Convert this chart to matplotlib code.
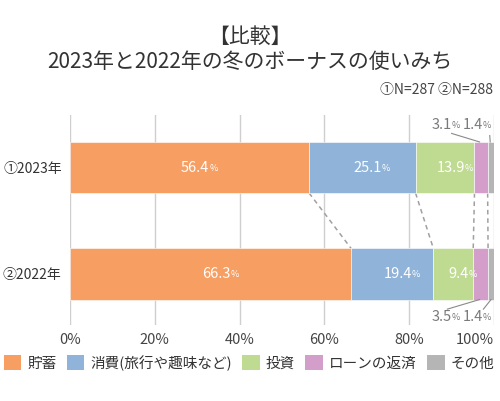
import matplotlib.pyplot as plt
from matplotlib.patches import Patch

plt.rcParams['font.family'] = ['Noto Sans CJK JP', 'DejaVu Sans']

# ===== データ =====
years = ["①2023年", "②2022年"]
categories = ["貯蓄", "消費(旅行や趣味など)", "投資", "ローンの返済", "その他"]
vals_2023 = [56.4, 25.1, 13.9, 3.1, 1.4]
vals_2022 = [66.3, 19.4, 9.4, 3.5, 1.4]
colors = ["#F79E63", "#8FB3D9", "#BFDB91", "#D49ECB", "#B5B5B5"]
xticks = [0, 20, 40, 60, 80, 100]

data = [vals_2023, vals_2022]

fig = plt.figure(figsize=(5.0, 4.01), dpi=100)
ax = fig.add_axes([0.14, 1 - 325 / 401, 0.848, 210 / 401])

# grid
for t in xticks:
    ax.axvline(t, color="#CFCFCF", lw=1, zorder=0)

bar_h = 0.48
for i, vals in enumerate(data):
    left = 0
    for j, v in enumerate(vals):
        ax.barh(i, v, left=left, height=bar_h, color=colors[j],
                edgecolor="white", linewidth=0.4, zorder=2)
        if v > 5:
            t = ax.text(left + v / 2 + 1.3, i, f"{v}", color="white",
                        ha="center", va="center", fontsize=10.5, zorder=3)
            ax.annotate("%", xy=(1, 0.12), xycoords=t, color="white",
                        fontsize=6.5, va="bottom", ha="left", zorder=3)
        left += v

# 点線 (2023 -> 2022)
c1 = 0
c2 = 0
for j in range(len(categories) - 1):
    c1 += vals_2023[j]
    c2 += vals_2022[j]
    ax.plot([c1, c2], [bar_h / 2, 1 - bar_h / 2], ls=(0, (3, 2.5)),
            color="#A0A0A0", lw=1.1, zorder=1)

# 小さい値のラベル
def small_label(x, y, v):
    t = ax.text(x, y, f"{v}", color="#7A7A7A", fontsize=10.5,
                ha="left", va="center", zorder=3)
    ax.annotate("%", xy=(1, 0.12), xycoords=t, color="#7A7A7A",
                fontsize=6.5, va="bottom", ha="left")

cum23 = sum(vals_2023[:3])
cum22 = sum(vals_2022[:3])
small_label(85.2, -0.40, vals_2023[3])
small_label(92.6, -0.40, vals_2023[4])
ax.plot([90, cum23 + 1.2], [-0.32, -bar_h / 2], color="#8A8A8A", lw=0.8)
ax.plot([99.0, cum23 + vals_2023[3] + 0.6], [-0.30, -bar_h / 2], color="#8A8A8A", lw=0.8)
small_label(85.2, 1.40, vals_2022[3])
small_label(92.6, 1.40, vals_2022[4])
ax.plot([89, cum22 + 1.5], [1.33, 1 + bar_h / 2], color="#8A8A8A", lw=0.8)
ax.plot([97.5, cum22 + vals_2022[3] + 0.7], [1.33, 1 + bar_h / 2], color="#8A8A8A", lw=0.8)

ax.set_xlim(0, 100)
ax.set_ylim(1.479, -0.493)
ax.set_yticks([0, 1])
ax.set_yticklabels(years, fontsize=10, color="#333333")
ax.set_xticks(xticks)
ax.set_xticklabels([f"{t}%" for t in xticks], fontsize=10.5, color="#444444")
ax.get_xticklabels()[-1].set_horizontalalignment("right")
ax.tick_params(length=0, pad=6)
for s in ax.spines.values():
    s.set_visible(False)

# タイトル
fig.text(0.5, 1 - 37 / 401, "【比較】", ha="center", va="center",
         fontsize=15, color="#333333")
fig.text(0.5, 1 - 62 / 401, "2023年と2022年の冬のボーナスの使いみち",
         ha="center", va="center", fontsize=15, color="#333333")
fig.text(0.986, 1 - 90 / 401, "①N=287 ②N=288", ha="right", va="center",
         fontsize=10, color="#444444")

# 凡例
handles = [Patch(facecolor=c, edgecolor="none") for c in colors]
fig.legend(handles, categories, loc="center", bbox_to_anchor=(0.498, 1 - 363 / 401),
           ncol=5, frameon=False, fontsize=10.5, handlelength=1.2, handleheight=1.2,
           handletextpad=0.4, columnspacing=0.72, labelcolor="#333333",
           borderaxespad=0, borderpad=0)

plt.savefig("out.png", dpi=100)
plt.close()
